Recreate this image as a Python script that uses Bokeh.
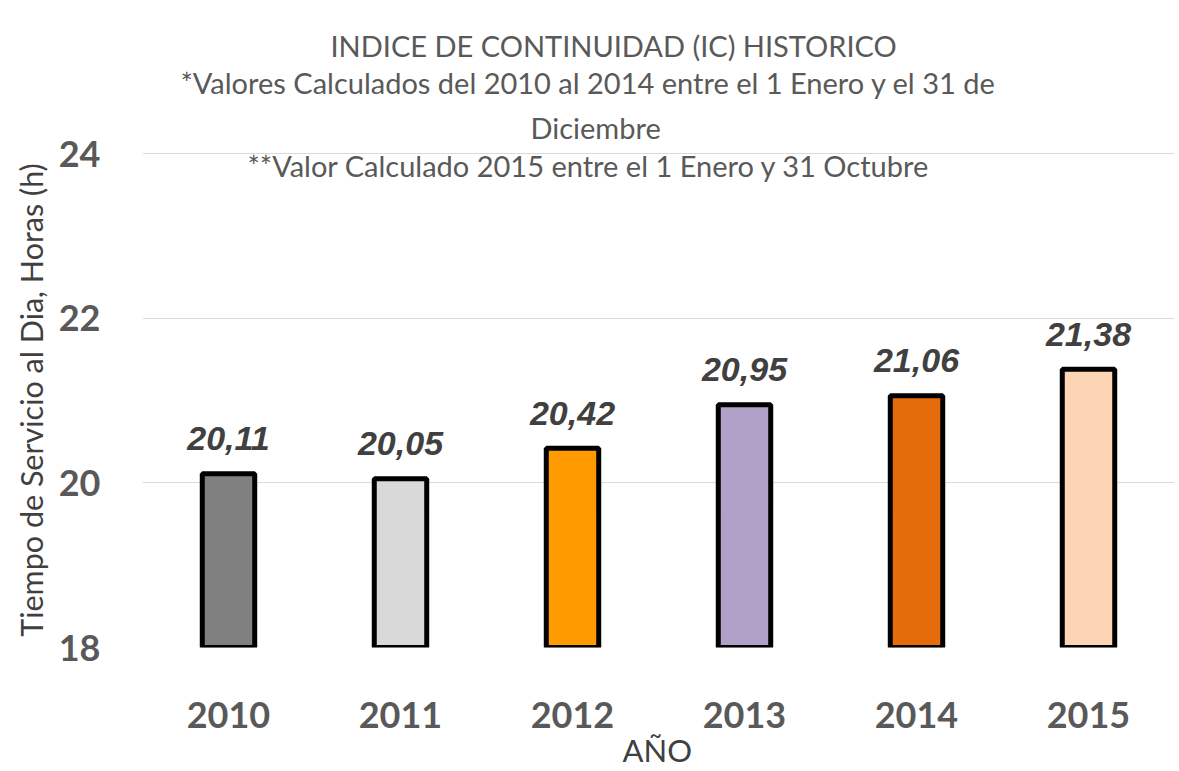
from bokeh.plotting import figure
from bokeh.models import ColumnDataSource, FactorRange, Range1d, FixedTicker, Title, Label
from bokeh.core.properties import value
from bokeh.embed import file_html
from bokeh.resources import INLINE

years = ["2010", "2011", "2012", "2013", "2014", "2015"]
hours = [20.11, 20.05, 20.42, 20.95, 21.06, 21.38]
y_ticks = [18, 20, 22, 24]
title_lines = [
    "INDICE DE CONTINUIDAD (IC) HISTORICO",
    "*Valores Calculados del 2010 al 2014 entre el 1 Enero y el 31 de",
    "Diciembre",
    "**Valor Calculado 2015 entre el 1 Enero y 31 Octubre",
]
x_title = "AÑO"
y_title = "Tiempo de Servicio al Dia, Horas (h)"

bar_colors = ["#808080", "#D9D9D9", "#FF9A00", "#B1A0C7", "#E46C0A", "#FCD5B5"]
labels = [f"{v:.2f}".replace(".", ",") for v in hours]

src = ColumnDataSource(dict(year=years, hours=hours, color=bar_colors, label=labels))

W, H = 1179, 771
p = figure(
    x_range=FactorRange(*years),
    y_range=Range1d(18, 24.015),
    width=W, height=H,
    output_backend="svg", toolbar_location=None,
    min_border_left=142, min_border_right=5, min_border_top=152, min_border_bottom=124,
)
p.outline_line_color = None
p.background_fill_color = "white"
p.border_fill_color = "white"

p.vbar(x="year", top="hours", bottom=18, width=0.305, source=src,
       fill_color="color", line_color="black", line_width=5)

p.text(x="year", y="hours", text="label", source=src,
       text_align="center", text_baseline="alphabetic", y_offset=-35,
       text_font=value("Liberation Sans"), text_font_style="bold italic",
       text_font_size="34px", text_color="#404040")

# axes
p.xgrid.grid_line_color = None
p.ygrid.grid_line_color = "#D9D9D9"
p.ygrid.grid_line_width = 1
p.yaxis.ticker = FixedTicker(ticks=y_ticks)
for ax in (p.xaxis[0], p.yaxis[0]):
    ax.axis_line_color = None
    ax.major_tick_line_color = None
    ax.minor_tick_line_color = None
    ax.major_tick_out = 0
    ax.major_tick_in = 0
    ax.major_label_text_font = "Lato"
    ax.major_label_text_font_style = "bold"
    ax.major_label_text_font_size = "36px"
    ax.major_label_text_color = "#595959"
p.yaxis.major_label_standoff = 42
p.xaxis.major_label_standoff = 54
p.yaxis.axis_label = y_title
p.yaxis.axis_label_text_font = "Lato"
p.yaxis.axis_label_text_font_style = "normal"
p.yaxis.axis_label_text_font_size = "30.5px"
p.yaxis.axis_label_text_color = "#404040"
p.yaxis.axis_label_standoff = 7

# x axis title as a title below the axis
p.add_layout(Title(text=x_title, align="left", offset=480, standoff=-4,
                   text_font="Lato", text_font_style="normal",
                   text_font_size="31px", text_color="#404040"), "below")

# chart title lines (nearest the plot area first); left edges as in the reference
title_offsets = [188, 38, 388]
title_standoffs = [2, -1, 16]
for t, off, so in reversed(list(zip(title_lines[:3], title_offsets, title_standoffs))):
    p.add_layout(Title(text=t, align="left", offset=off, standoff=so,
                       text_font="Lato", text_font_style="normal",
                       text_font_size="29px", text_color="#595959",
                       text_line_height=1.0), "above")
# last line reaches into the plot area
p.add_layout(Label(x=105, y=482, x_units="screen", y_units="screen", text=title_lines[3],
                   text_align="left", text_baseline="middle",
                   text_font="Lato", text_font_size="29px", text_color="#595959"))

open("out.html", "w").write(file_html(p, INLINE))
